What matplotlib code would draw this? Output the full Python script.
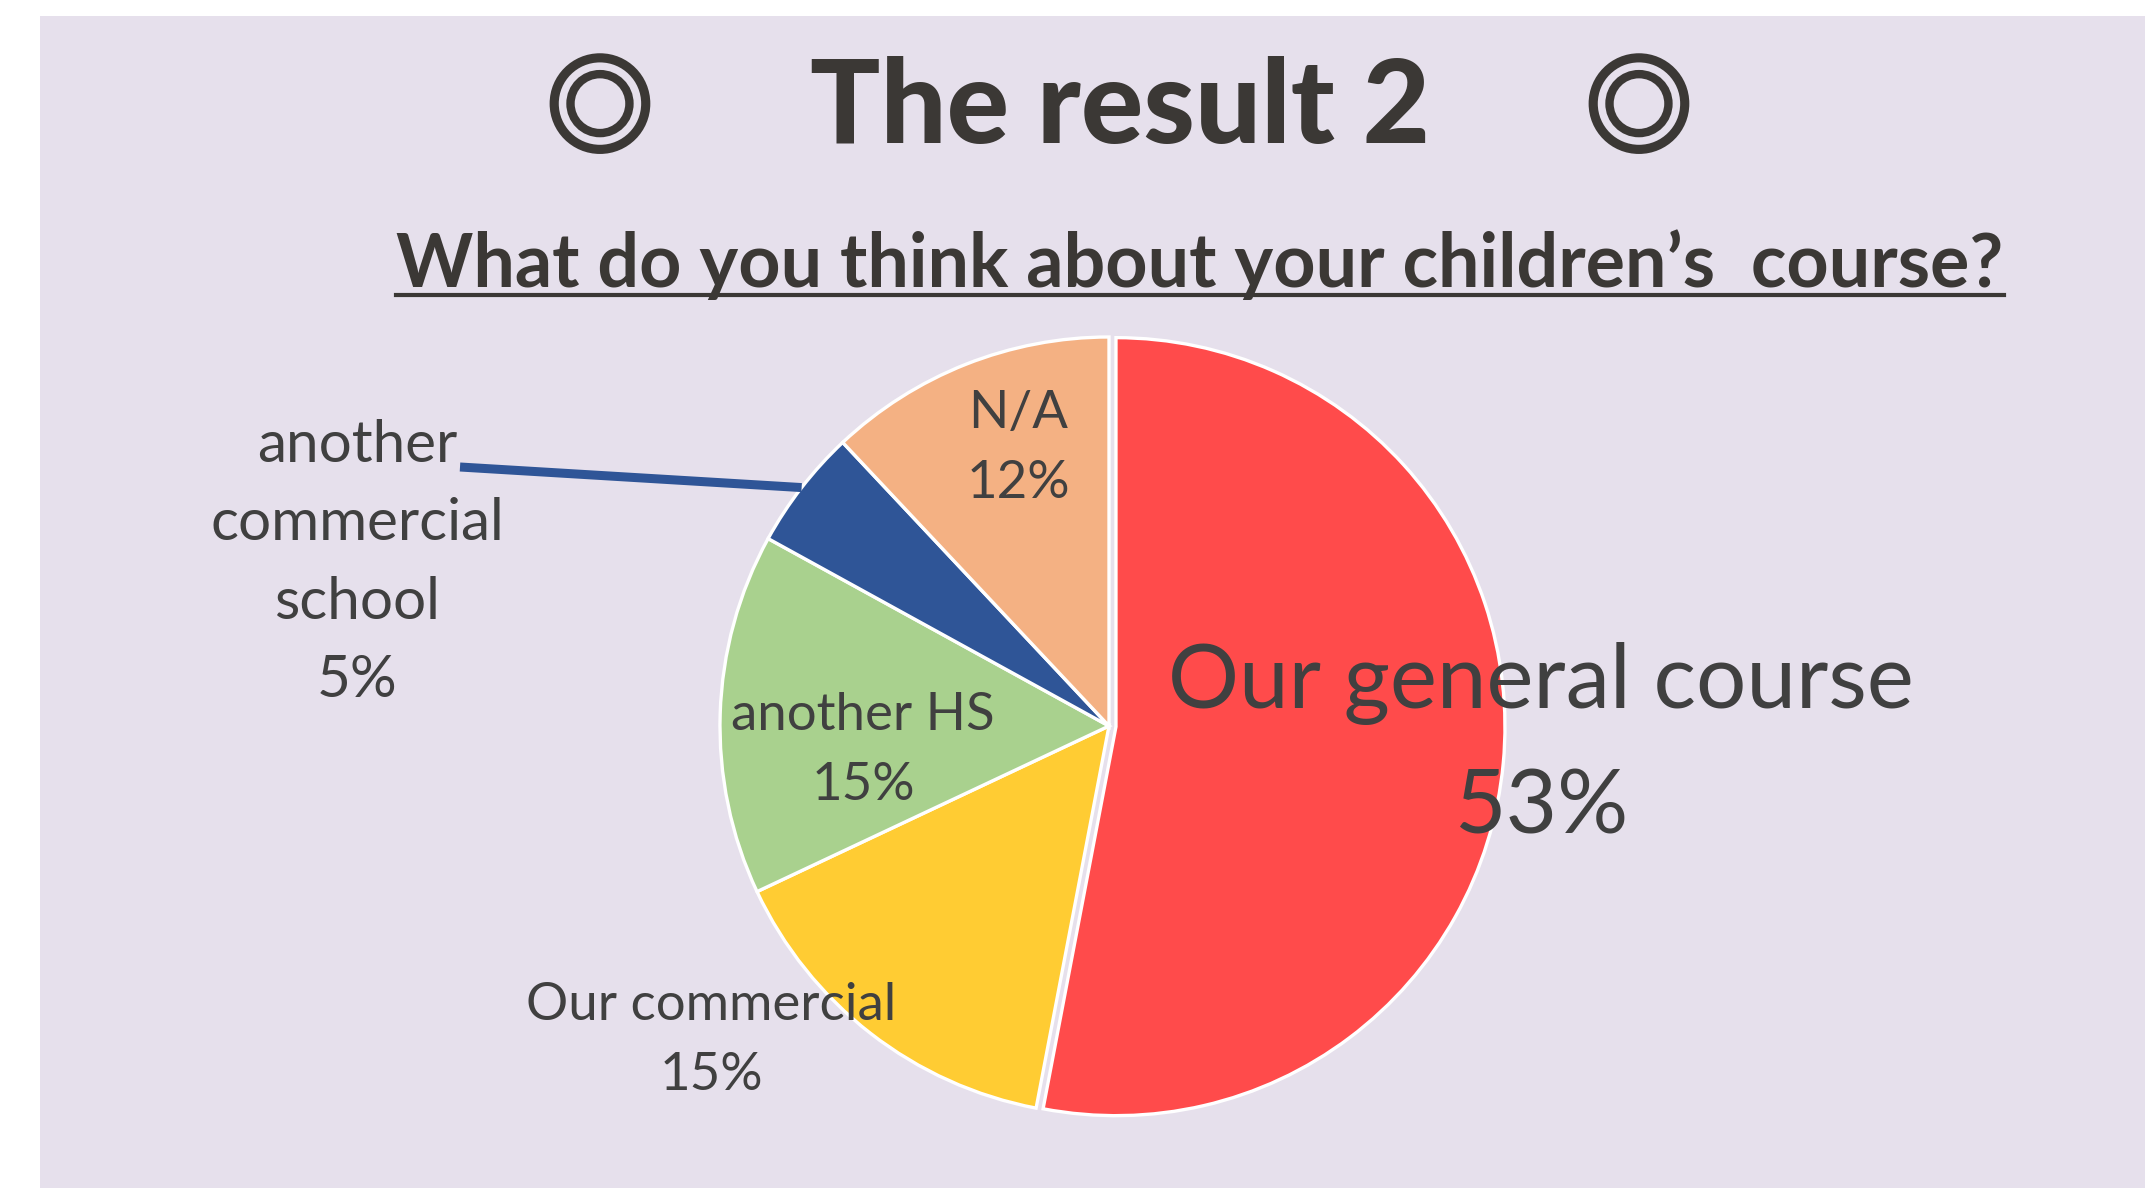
import matplotlib
matplotlib.use("Agg")
import matplotlib.pyplot as plt
from matplotlib.patches import Rectangle
from matplotlib.lines import Line2D
import matplotlib.patheffects as pe
import numpy as np

# ---- data ----
categories = ["Our general course", "Our commercial", "another HS",
              "another\ncommercial\nschool", "N/A"]
values = [53, 15, 15, 5, 12]
colors = ["#FF4B4B", "#FFCC33", "#A9D18E", "#2F5597", "#F4B183"]
title = "The result 2"
subtitle = "What do you think about your children\u2019s  course?"

W, H = 2145, 1188
BG = "#E6E0EC"
TXT = "#404040"
TITLE_C = "#3B3835"

fig = plt.figure(figsize=(W / 100, H / 100), dpi=100)
fig.patch.set_facecolor("white")
ax = fig.add_axes([0, 0, 1, 1])
ax.axis("off")

def Y(y):  # pixel-from-top -> data y
    return H - y

# background panel
ax.add_patch(Rectangle((40, 0), W - 40, H - 16, facecolor=BG, edgecolor="none", zorder=0))

radius = 389
center = (1109, Y(726))
explode = [0.018 * radius, 0, 0, 0, 0]
wedges, _ = ax.pie(values, colors=colors, startangle=90, counterclock=False,
                   explode=explode, radius=radius, center=center,
                   wedgeprops=dict(edgecolor="white", linewidth=2.4, zorder=2))
ax.set_xlim(0, W)
ax.set_ylim(0, H)
ax.set_aspect("equal")

# labels (anchored at the baseline of the last line)
lab_font = dict(family=["Lato", "DejaVu Sans"], color=TXT, ha="center", va="baseline", zorder=5)
pct = [f"{v}%" for v in values]
ax.text(1541, Y(833), f"{categories[0]}\n{pct[0]}", fontsize=64, linespacing=1.64, **lab_font)
ax.text(711, Y(1090), f"{categories[1]}\n{pct[1]}", fontsize=38, linespacing=1.61, **lab_font)
ax.text(863, Y(800), f"{categories[2]}\n{pct[2]}", fontsize=38, linespacing=1.61, **lab_font)
ax.text(357, Y(697), f"{categories[3]}\n{pct[3]}", fontsize=42, linespacing=1.59, **lab_font)
ax.text(1018, Y(498), f"{categories[4]}\n{pct[4]}", fontsize=38, linespacing=1.61, **lab_font)

# leader line for the small blue slice
wb = wedges[3]
thm = np.deg2rad((wb.theta1 + wb.theta2) / 2)
ex = wb.center[0] + wb.r * np.cos(thm)
ey = wb.center[1] + wb.r * np.sin(thm)
ax.add_line(Line2D([460, ex], [Y(467), ey], color=colors[3], linewidth=6.5,
                   solid_capstyle="butt", zorder=3))

# title and marks
ax.text(1120, Y(143), title, fontsize=84, fontweight="black",
        family=["Lato", "DejaVu Sans"], color=TITLE_C, ha="center", va="baseline", zorder=5)
for mx in (600, 1639):
    ax.text(mx, Y(113), "\u25CE", fontsize=77, fontweight="bold",
            family=["Noto Sans CJK JP", "DejaVu Sans"],
            color=TITLE_C, ha="center", va="center", zorder=5,
            path_effects=[pe.Stroke(linewidth=3.2, foreground=TITLE_C), pe.Normal()])

st = ax.text(1200, Y(287), subtitle, fontsize=53, fontweight="bold",
             family=["Lato", "DejaVu Sans"], color=TITLE_C, ha="center", va="baseline", zorder=5)
fig.canvas.draw()
bb = st.get_window_extent()
ax.add_line(Line2D([bb.x0, bb.x1], [Y(295), Y(295)], color=TITLE_C, linewidth=3, zorder=5))

fig.savefig("out.png", dpi=100, facecolor=fig.get_facecolor())
